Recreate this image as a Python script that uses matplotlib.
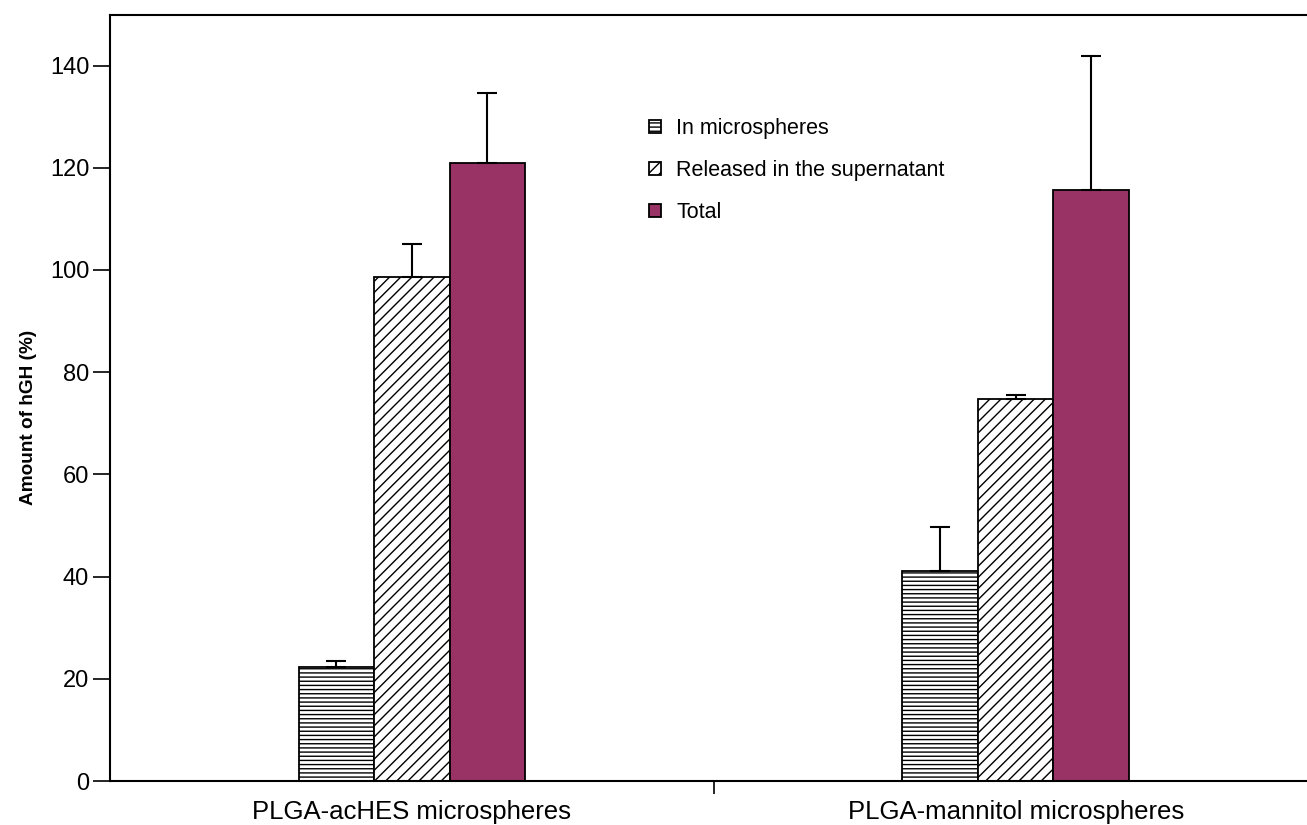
import matplotlib
matplotlib.use("Agg")
import matplotlib.pyplot as plt
import numpy as np

plt.rcParams['font.family'] = ['Liberation Sans', 'DejaVu Sans']
plt.rcParams['hatch.linewidth'] = 1.0

categories = ["PLGA-acHES microspheres", "PLGA-mannitol microspheres"]
series_names = ["In microspheres", "Released in the supernatant", "Total"]
in_micro = [22.3, 41.1]
in_micro_err = [1.1, 8.6]
released = [98.7, 74.8]
released_err = [6.4, 0.7]
total = [121.0, 115.7]
total_err = [13.7, 26.1]

W, H = 1307, 825
L, R, B, T = 110, 1317.5, 781, 14.5
fig = plt.figure(figsize=(W/100, H/100), dpi=100)
ax = fig.add_axes([L/W, (H-B)/H, (R-L)/W, (B-T)/H])
AW, AH = R - L, B - T

x = np.arange(len(categories))
w = 0.125
styles = [
    dict(facecolor='white', hatch='----', edgecolor='black'),
    dict(facecolor='white', hatch='///', edgecolor='black'),
    dict(facecolor='#993366', hatch=None, edgecolor='black'),
]
vals = [in_micro, released, total]
errs = [in_micro_err, released_err, total_err]
handles = []
for i, (v, e, st) in enumerate(zip(vals, errs, styles)):
    pos = x + (i - 1) * w
    b = ax.bar(pos, v, width=w, linewidth=1.3, label=series_names[i], zorder=2, **st)
    ax.errorbar(pos, v, yerr=[np.zeros(len(e)), e], fmt='none', ecolor='black',
                elinewidth=1.5, capsize=7, capthick=1.5, zorder=3)
    handles.append(b)

ax.set_xlim(-0.5, 1.5)
ax.set_ylim(0, 150)
ax.set_yticks(np.arange(0, 141, 20))
ax.set_xticks(x)
ax.set_xticklabels(categories, fontsize=18.5)
ax.set_xticks([0.5], minor=True)
ax.tick_params(axis='x', which='major', length=0, pad=13.5)
ax.tick_params(axis='x', which='minor', length=9, width=1.2, direction='out')
ax.tick_params(axis='y', which='major', length=12, width=1.2, direction='out', labelsize=17, pad=3)
for s in ['left', 'bottom', 'top']:
    ax.spines[s].set_linewidth(1.5)
ax.spines['right'].set_visible(False)
ax.set_ylabel("Amount of hGH (%)", fontsize=13.7, fontweight='bold')
ax.yaxis.set_label_coords((37 - L) / AW, (B - 417) / AH)

leg = ax.legend(handles=handles, loc='upper left',
                bbox_to_anchor=((630 - L) / AW, (B - 99) / AH),
                frameon=False, fontsize=15.5, handlelength=0.55, handleheight=0.55,
                handletextpad=0.7, labelspacing=0.97)

fig.savefig("out.png", dpi=100)
